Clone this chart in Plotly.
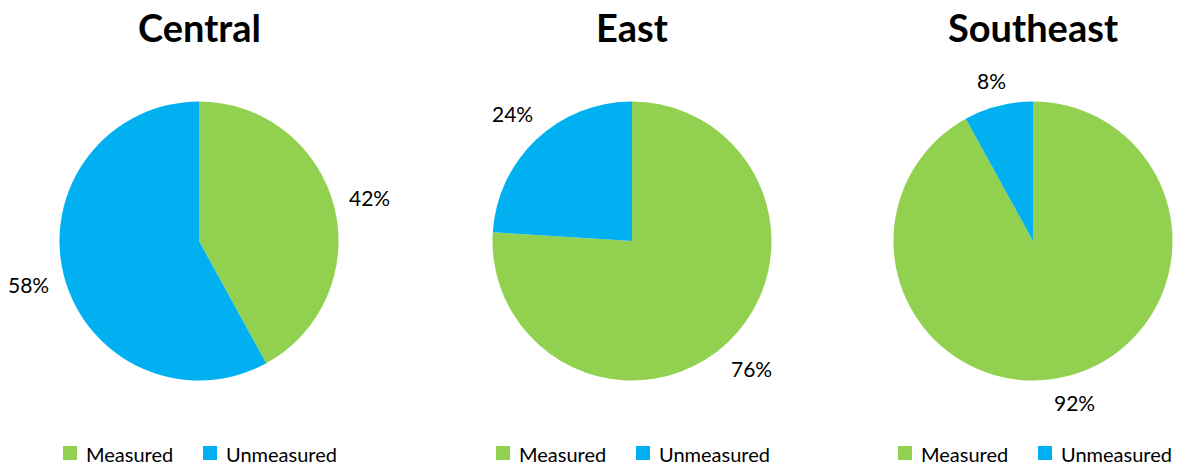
import math
import plotly.graph_objects as go

# Share of sites measured vs. unmeasured by region
regions = ["Central", "East", "Southeast"]
labels = ["Measured", "Unmeasured"]
measured_pct = [42, 76, 92]
unmeasured_pct = [58, 24, 8]
colors = ["#92D050", "#00B0F0"]

W, H = 1185, 467
FONT = "Lato, Calibri, Arial, sans-serif"

# pie placement in pixels: centre x per region, shared centre y and radius
pie_cx = [199, 632, 1033]
pie_cy = 241
pie_r = 139.5

# left edge of each region's key (first swatch)
key_left = [63, 496, 898]
LABEL_SIZE = 21
KEY_SIZE = 20

fig = go.Figure()
annotations = []
shapes = []

for i, region in enumerate(regions):
    vals = [measured_pct[i], unmeasured_pct[i]]
    cx, cy, r = pie_cx[i], pie_cy, pie_r
    fig.add_trace(go.Pie(
        name=region,
        labels=labels,
        values=vals,
        sort=False,
        direction="clockwise",
        rotation=0,
        textinfo="none",
        hoverinfo="label+percent",
        marker=dict(colors=colors, line=dict(width=0)),
        domain=dict(x=[(cx - r) / W, (cx + r) / W],
                    y=[1 - (cy + r) / H, 1 - (cy - r) / H]),
        showlegend=False,
    ))

    # region title
    annotations.append(dict(
        text=f"<b>{region}</b>", x=cx / W, y=1 - 27 / H,
        xref="paper", yref="paper", showarrow=False,
        xanchor="center", yanchor="middle",
        font=dict(family=FONT, size=38, color="#000000"),
    ))

    # percentage labels outside each slice, pushed out along the slice's
    # mid-angle by a gap plus half the label box's extent in that direction
    total = sum(vals)
    cum = 0
    for v in vals:
        mid = (cum + v / 2) / total * 2 * math.pi
        cum += v
        txt = f"{v}%"
        half_w = len(txt) * LABEL_SIZE * 0.5 / 2 + 6
        half_h = LABEL_SIZE * 0.45
        sx, cyv = math.sin(mid), math.cos(mid)
        extent = abs(sx) * half_w + abs(cyv) * half_h
        d = r + 13 + extent
        lx = cx + d * sx
        ly = cy - d * cyv
        annotations.append(dict(
            text=txt, x=lx / W, y=1 - ly / H,
            xref="paper", yref="paper", showarrow=False,
            xanchor="center", yanchor="middle",
            font=dict(family=FONT, size=LABEL_SIZE, color="#000000"),
        ))

    # per-region key: swatch + label for each category
    key_y = 453
    offsets = [(0, 21), (140, 161)]
    for (sw_off, txt_off), lab, col in zip(offsets, labels, colors):
        sx0 = key_left[i] + sw_off
        shapes.append(dict(
            type="rect", xref="paper", yref="paper",
            x0=sx0 / W, x1=(sx0 + 14) / W,
            y0=1 - (key_y + 7) / H, y1=1 - (key_y - 7) / H,
            fillcolor=col, line=dict(width=0),
        ))
        annotations.append(dict(
            text=lab, x=(key_left[i] + txt_off) / W, y=1 - (key_y + 1) / H,
            xref="paper", yref="paper", showarrow=False,
            xanchor="left", yanchor="middle",
            font=dict(family=FONT, size=KEY_SIZE, color="#000000"),
        ))

fig.update_layout(
    width=W, height=H,
    margin=dict(l=0, r=0, t=0, b=0),
    paper_bgcolor="#FFFFFF",
    plot_bgcolor="#FFFFFF",
    showlegend=False,
    annotations=annotations,
    shapes=shapes,
)

fig.write_html("out.html")
